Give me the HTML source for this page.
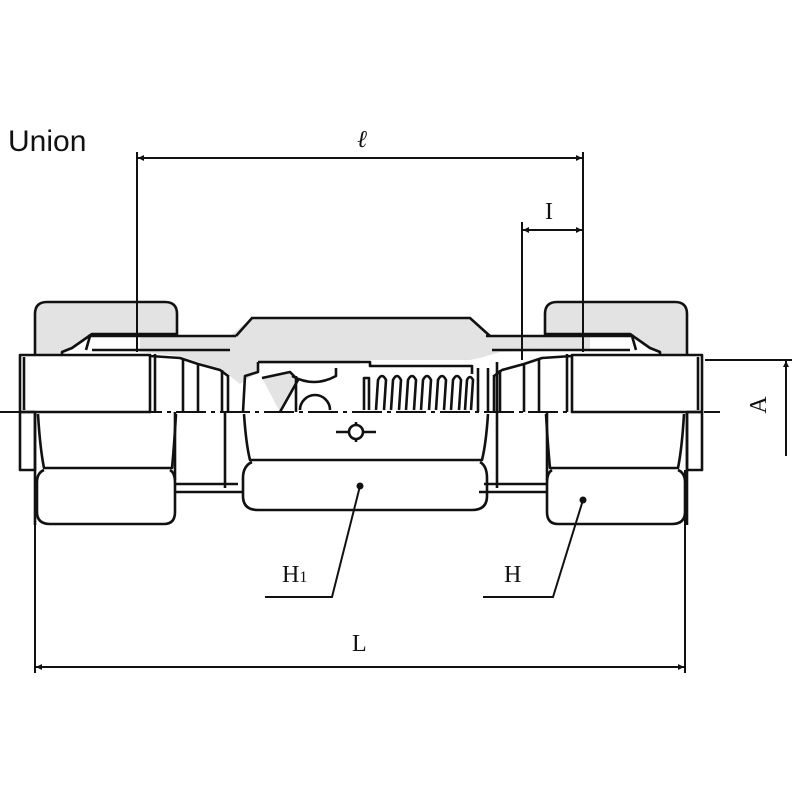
<!DOCTYPE html>
<html><head><style>
html,body{margin:0;padding:0;background:#fff;}
svg{display:block;}
text{font-family:"Liberation Serif",serif;fill:#111;}
</style></head><body>
<svg width="800" height="800" viewBox="0 0 800 800" xmlns="http://www.w3.org/2000/svg">
<defs>
<marker id="ar" viewBox="0 0 10 10" refX="10" refY="5" markerWidth="10" markerHeight="6" orient="auto-start-reverse" markerUnits="userSpaceOnUse"><path d="M0,0 L10,5 L0,10 z" fill="#111"/></marker>
<g id="half" fill="none" stroke="#111" stroke-width="2.6" stroke-linejoin="round">
  <path d="M35,355 L35,314 Q35,302 47,302 L165,302 Q177,302 177,314 L177,334 L92,334 L72,348 L62,352 L62,355" fill="#e3e3e3"/>
  <path d="M88,336 L236,336 M92,350 L230,350 M90,336 L86,350"/>
  <rect x="20" y="355" width="130" height="57" fill="#fff"/>
  <line x1="24" y1="357" x2="24" y2="410"/>
  <line x1="155" y1="354" x2="155" y2="412"/>
  <line x1="183" y1="360" x2="183" y2="412"/>
  <line x1="198" y1="364" x2="198" y2="412"/>
  <line x1="222" y1="370" x2="222" y2="412"/>
  <line x1="228" y1="375" x2="228" y2="412"/>
  <path d="M150,356 L180,358 L198,364 L220,370 L228,376"/>
  <rect x="20" y="412" width="15" height="58"/>
  <line x1="35" y1="412" x2="35" y2="525"/>
  <path d="M38,414 Q40,448 44,468 L172,468 Q174,448 176,414"/>
  <path d="M44,470 Q37,473 37,482 L37,512 Q37,524 50,524 L164,524 Q175,524 175,512 L175,482 Q175,473 170,470"/>
  <line x1="175" y1="412" x2="175" y2="480"/>
  <line x1="225" y1="412" x2="225" y2="488"/>
  <path d="M175,484 L238,484 M175,492 L243,492"/>
</g>
</defs>

<text x="8" y="151" font-size="30" style="font-family:'Liberation Sans',sans-serif">Union</text>

<path d="M140,336 L230,336 L252,318 L470,318 L490,336 L590,336 L590,350 L500,352 L480,358 L470,360 L360,360 L360,364 L258,364 L258,372 L240,384 L230,376 L215,368 L198,362 L180,356 L140,352 Z" fill="#e3e3e3" stroke="none"/>
<path d="M236,336 L252,318 L470,318 L490,336" fill="none" stroke="#111" stroke-width="2.6"/>

<use href="#half"/>
<use href="#half" transform="matrix(-1,0,0,1,722,0)"/>

<g fill="none" stroke="#111" stroke-width="2.6" stroke-linejoin="round">
  <path d="M258,362 L258,372 L245,376 L243,412"/>
  <path d="M258,362 L370,362 L370,366 L472,366 L472,374"/>
  <path d="M262,378 L290,372 L298,380 L280,412" fill="#e3e3e3"/>
  <path d="M292,376 Q314,388 336,376 L336,368"/>
  <path d="M300,410 A15,15 0 0 1 330,410"/>
  <line x1="296" y1="376" x2="296" y2="412"/>
  <path d="M364,410 L364,378 L369,378 L369,410
           M376,410 L378,380 Q382,372 386,380 L384,410
           M391,410 L393,380 Q397,372 401,380 L399,410
           M406,410 L408,380 Q412,372 416,380 L414,410
           M421,410 L423,380 Q427,372 431,380 L429,410
           M436,410 L438,380 Q442,372 446,380 L444,410
           M451,410 L453,380 Q457,372 461,380 L459,410
           M465,410 L467,380 Q470,374 473,380 L471,410"/>
  <path d="M478,368 L478,412 M488,368 L488,412 M497,362 L497,412"/>
  <path d="M244,414 Q246,444 250,460 L482,460 Q486,444 488,414"/>
  <path d="M252,462 Q243,466 243,478 L243,496 Q243,510 258,510 L472,510 Q487,510 487,496 L487,478 Q487,466 480,462"/>
  <line x1="336" y1="432" x2="376" y2="432"/>
  <circle cx="356" cy="432" r="7" fill="#fff"/>
  <path d="M356,422 L356,425 M356,439 L356,442"/>
</g>

<line x1="0" y1="412" x2="720" y2="412" stroke="#111" stroke-width="2" stroke-dasharray="30,5,4,5"/>

<g stroke="#111" stroke-width="2" fill="none">
  <line x1="137" y1="152" x2="137" y2="352"/>
  <line x1="583" y1="152" x2="583" y2="352"/>
  <line x1="138" y1="158" x2="582" y2="158" marker-start="url(#ar)" marker-end="url(#ar)"/>
  <line x1="522" y1="222" x2="522" y2="360"/>
  <line x1="523" y1="230" x2="582" y2="230" marker-start="url(#ar)" marker-end="url(#ar)"/>
  <line x1="705" y1="360" x2="792" y2="360"/>
  <line x1="786" y1="456" x2="786" y2="361" marker-end="url(#ar)"/>
  <line x1="35" y1="525" x2="35" y2="673"/>
  <line x1="685" y1="470" x2="685" y2="673"/>
  <line x1="36" y1="667" x2="684" y2="667" marker-start="url(#ar)" marker-end="url(#ar)"/>
  <path d="M265,597 L332,597 L360,486"/>
  <path d="M483,597 L553,597 L583,500"/>
</g>
<circle cx="360" cy="486" r="3.5" fill="#111"/>
<circle cx="583" cy="500" r="3.5" fill="#111"/>

<text x="357" y="147" font-size="24" font-style="italic">ℓ</text>
<text x="545" y="219" font-size="24">I</text>
<text x="774" y="413" font-size="24" text-anchor="middle" transform="rotate(-90 766 413)">A</text>
<text x="282" y="582" font-size="24">H<tspan font-size="16">1</tspan></text>
<text x="504" y="582" font-size="24">H</text>
<text x="352" y="651" font-size="24">L</text>
</svg>
</body></html>
